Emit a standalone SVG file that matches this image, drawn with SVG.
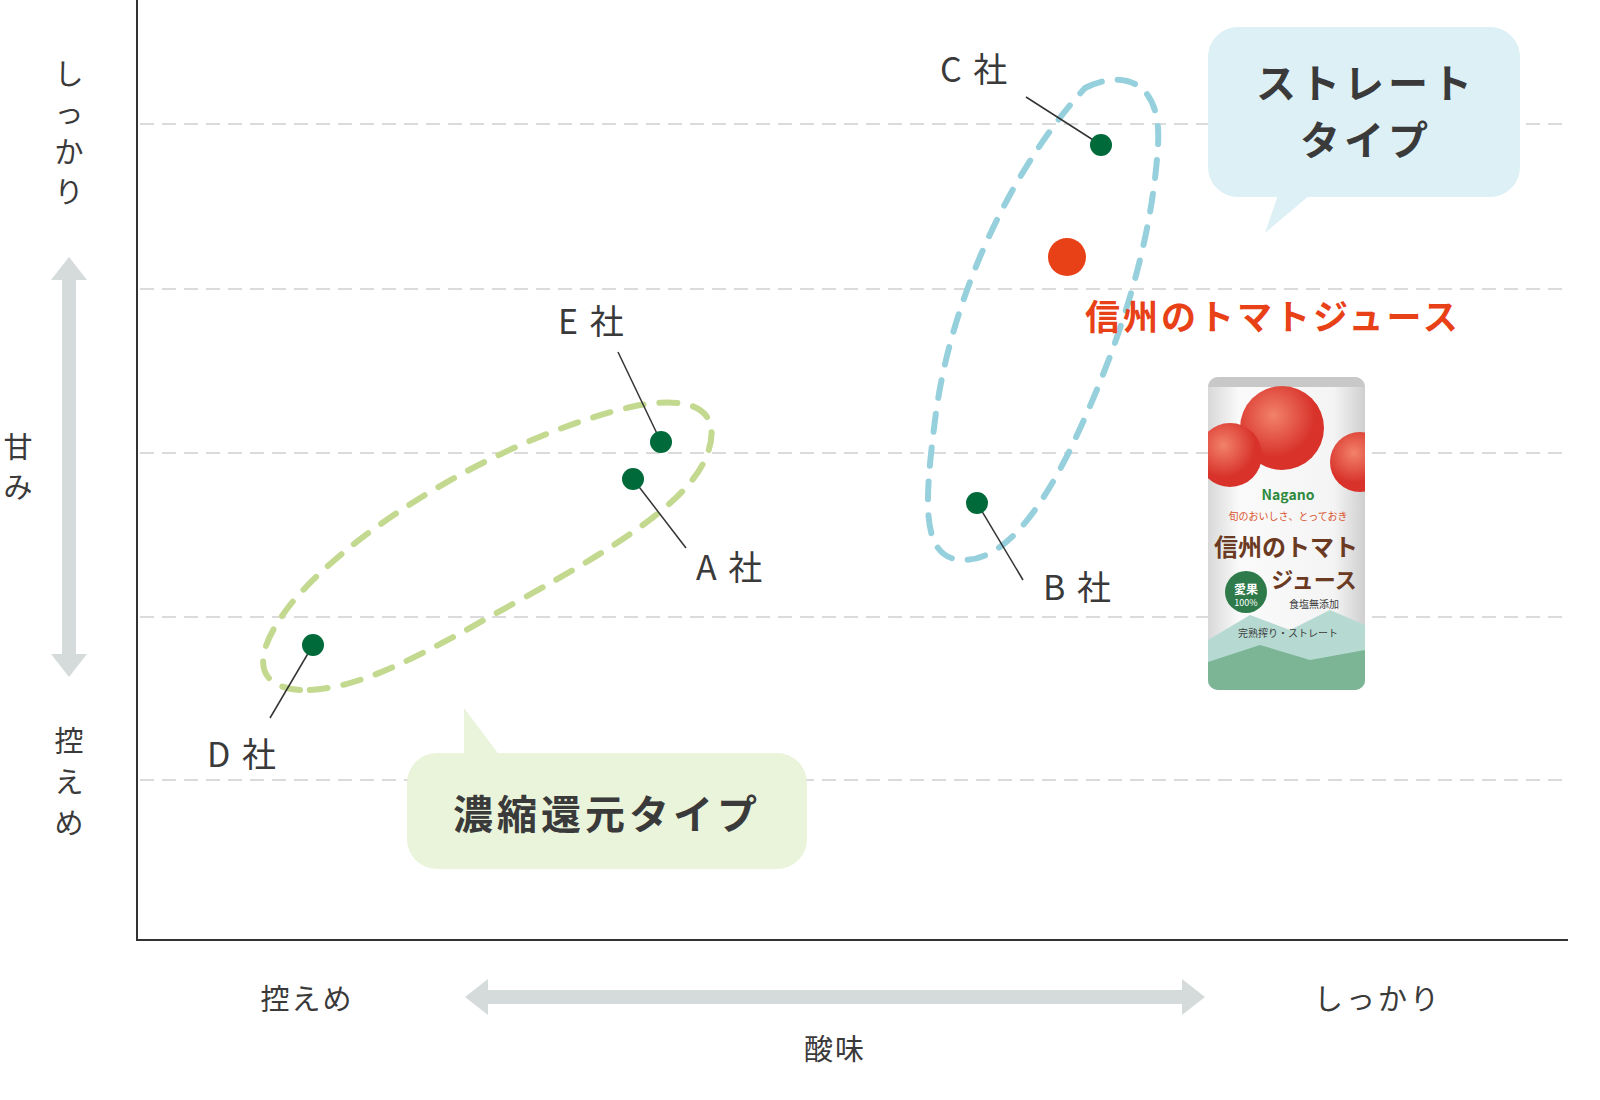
<svg xmlns="http://www.w3.org/2000/svg" width="1600" height="1100" viewBox="0 0 1600 1100">
<style>
text{font-family:"Noto Sans CJK JP","Noto Sans",sans-serif;fill:#3a3a3a}
.lab{font-size:34px;letter-spacing:2px}
.ax{font-size:29px}
.grid{stroke:#d0d0d0;stroke-width:1.5;stroke-dasharray:14 8}
.pt{fill:#006a3b}
.lead{stroke:#333;stroke-width:1.5}
.big{font-size:40px;font-weight:bold;text-anchor:middle;letter-spacing:4px}
</style>
<defs>
<linearGradient id="can" x1="0" x2="1"><stop offset="0" stop-color="#d8d8d8"/><stop offset="0.2" stop-color="#fafafa"/><stop offset="0.8" stop-color="#f4f4f4"/><stop offset="1" stop-color="#cfcfcf"/></linearGradient>
<radialGradient id="tom" cx="0.4" cy="0.35"><stop offset="0" stop-color="#f2826a"/><stop offset="1" stop-color="#d8322a"/></radialGradient>
<clipPath id="canclip"><rect x="1208" y="377" width="157" height="313" rx="10"/></clipPath>
</defs>
<rect width="1600" height="1100" fill="#fff"/>
<g id="grid">
<line class="grid" x1="140" y1="124" x2="1568" y2="124"/>
<line class="grid" x1="140" y1="289" x2="1568" y2="289"/>
<line class="grid" x1="140" y1="453" x2="1568" y2="453"/>
<line class="grid" x1="140" y1="617" x2="1568" y2="617"/>
<line class="grid" x1="140" y1="780" x2="1568" y2="780"/>
</g>
<g id="axes" stroke="#333" stroke-width="2">
<line x1="137" y1="0" x2="137" y2="941"/>
<line x1="136" y1="940" x2="1568" y2="940"/>
</g>
<g id="axis-labels">
<rect x="62" y="278" width="14" height="378" fill="#d5dbdb"/>
<polygon points="51,280 69,257 87,280" fill="#d5dbdb"/>
<polygon points="51,654 69,677 87,654" fill="#d5dbdb"/>
<text class="ax" x="69" y="85" text-anchor="middle">し</text>
<text class="ax" x="69" y="124" text-anchor="middle">っ</text>
<text class="ax" x="69" y="163" text-anchor="middle">か</text>
<text class="ax" x="69" y="203" text-anchor="middle">り</text>
<text class="ax" x="18" y="458" text-anchor="middle">甘</text>
<text class="ax" x="18" y="498" text-anchor="middle">み</text>
<text class="ax" x="69" y="752" text-anchor="middle">控</text>
<text class="ax" x="69" y="793" text-anchor="middle">え</text>
<text class="ax" x="69" y="834" text-anchor="middle">め</text>
<rect x="486" y="990" width="698" height="14" fill="#d5dbdb"/>
<polygon points="488,979 465,997 488,1015" fill="#d5dbdb"/>
<polygon points="1182,979 1205,997 1182,1015" fill="#d5dbdb"/>
<text class="ax" x="307" y="1010" text-anchor="middle" letter-spacing="2">控えめ</text>
<text class="ax" x="1378" y="1010" text-anchor="middle" letter-spacing="3">しっかり</text>
<text class="ax" x="835" y="1060" text-anchor="middle" letter-spacing="2">酸味</text>
</g>
<g id="groups" fill="none" stroke-width="6" stroke-linecap="round" stroke-dasharray="18 16">
<path stroke="#96d0dc" d="M1085,88 C1120,70 1162,78 1158,145 C1152,245 1118,350 1070,450 C1035,520 1000,562 960,560 C920,556 925,500 935,420 C950,300 1010,170 1085,88 Z"/>
<path stroke="#c3d98f" d="M300,690 C250,686 255,650 290,605 C360,520 520,430 640,405 C700,395 722,415 707,455 C690,500 620,545 520,600 C430,650 360,692 300,690 Z"/>
</g>
<g id="connectors">
<line class="lead" x1="1026" y1="97" x2="1101" y2="145"/>
<line class="lead" x1="618" y1="352" x2="661" y2="442"/>
<line class="lead" x1="633" y1="479" x2="686" y2="548"/>
<line class="lead" x1="313" y1="645" x2="270" y2="718"/>
<line class="lead" x1="977" y1="503" x2="1023" y2="580"/>
</g>
<g id="pC"><circle class="pt" cx="1101" cy="145" r="11"/><text class="lab" x="940" y="82">C 社</text></g>
<g id="pE"><circle class="pt" cx="661" cy="442" r="11"/><text class="lab" x="558" y="334">E 社</text></g>
<g id="pA"><circle class="pt" cx="633" cy="479" r="11"/><text class="lab" x="696" y="580">A 社</text></g>
<g id="pD"><circle class="pt" cx="313" cy="645" r="11"/><text class="lab" x="207" y="767">D 社</text></g>
<g id="pB"><circle class="pt" cx="977" cy="503" r="11"/><text class="lab" x="1043" y="600">B 社</text></g>
<g id="pOurs"><circle cx="1067" cy="257" r="19" fill="#e84118"/>
<text x="1085" y="330" font-size="35" font-weight="bold" letter-spacing="3" style="fill:#e84118">信州のトマトジュース</text></g>
<g id="callout-straight">
<rect x="1208" y="27" width="312" height="170" rx="30" fill="#dcf0f5"/>
<polygon points="1278,195 1310,195 1265,233" fill="#dcf0f5"/>
<text class="big" x="1366" y="98">ストレート</text>
<text class="big" x="1366" y="155">タイプ</text>
</g>
<g id="callout-concentrate">
<rect x="407" y="753" width="400" height="116" rx="30" fill="#e9f4da"/>
<polygon points="464,756 500,756 464,708" fill="#e9f4da"/>
<text class="big" x="607" y="829" font-size="38">濃縮還元タイプ</text>
</g>
<g id="can">
<rect x="1208" y="377" width="157" height="313" rx="10" fill="url(#can)"/>
<g clip-path="url(#canclip)">
<rect x="1208" y="377" width="157" height="10" fill="#c8c8c8"/>
<circle cx="1282" cy="428" r="42" fill="url(#tom)"/>
<circle cx="1230" cy="455" r="32" fill="url(#tom)"/>
<circle cx="1360" cy="462" r="30" fill="url(#tom)"/>
<path d="M1208,640 L1250,615 L1290,630 L1330,610 L1365,625 L1365,690 L1208,690 Z" fill="#b6dad2"/>
<path d="M1208,662 L1260,645 L1310,660 L1365,650 L1365,690 L1208,690 Z" fill="#7cb496"/>
</g>
<text x="1288" y="500" font-size="14" font-weight="bold" text-anchor="middle" style="fill:#2e8a3e">Nagano</text>
<text x="1288" y="520" font-size="10" text-anchor="middle" style="fill:#d9532c">旬のおいしさ、とっておき</text>
<text x="1286" y="556" font-size="24" font-weight="bold" text-anchor="middle" style="fill:#6b3a22">信州のトマト</text>
<circle cx="1246" cy="592" r="21" fill="#2e7a4a"/>
<text x="1246" y="594" font-size="12" font-weight="bold" text-anchor="middle" style="fill:#fff">愛果</text>
<text x="1246" y="606" font-size="9" text-anchor="middle" style="fill:#fff">100%</text>
<text x="1314" y="588" font-size="22" font-weight="bold" text-anchor="middle" style="fill:#6b3a22">ジュース</text>
<text x="1314" y="608" font-size="10" text-anchor="middle">食塩無添加</text>
<text x="1288" y="637" font-size="10" text-anchor="middle">完熟搾り・ストレート</text>
</g>
</svg>
